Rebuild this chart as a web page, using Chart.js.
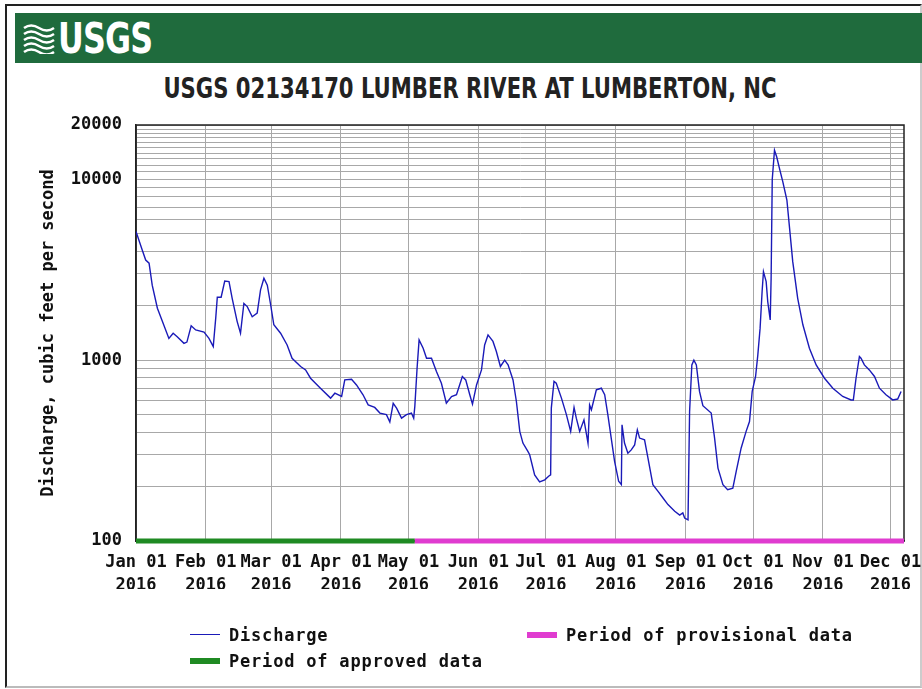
<!DOCTYPE html>
<html lang="en">
<head>
  <meta charset="UTF-8" />
  <title>USGS 02134170 Lumber River at Lumberton, NC</title>
  <style>
    body {
      margin: 0;
      background: #fff;
      width: 922px;
      height: 689px;
      overflow: hidden;
      font-family: "DejaVu Sans Mono", monospace;
    }
    #frame {
      position: absolute;
      left: 5px;
      top: 4px;
      width: 913px;
      height: 680px;
      border: 2px solid #222;
      border-right-color: #ccc;
      border-bottom-color: #bbb;
    }
    #banner {
      position: absolute;
      left: 15px;
      top: 13px;
      width: 907px;
      height: 50px;
      background: #1f6b3d;
    }
    #banner svg {
      position: absolute;
      left: 8px;
      top: 9px;
    }
    #banner span {
      position: absolute;
      left: 43px;
      top: 1px;
      color: #fff;
      font: bold 42px "DejaVu Sans Condensed", sans-serif;
      letter-spacing: -1px;
      transform: scaleX(0.84);
      transform-origin: left center;
    }
    #title {
      position: absolute;
      left: 0;
      top: 72px;
      width: 940px;
      text-align: center;
      color: #222;
      font: bold 28px "DejaVu Sans Condensed", sans-serif;
      line-height: 34px;
      transform: scaleX(0.84);
      transform-origin: 470px 0;
      white-space: nowrap;
    }
    #chart {
      position: absolute;
      left: 0;
      top: 0;
    }
    .leg {
      position: absolute;
      font: bold 17px "DejaVu Sans Mono", monospace;
      letter-spacing: 0.8px;
      color: #111;
      line-height: 20px;
      white-space: nowrap;
    }
    .leg i {
      display: inline-block;
      vertical-align: middle;
      width: 30px;
      margin-right: 9px;
      margin-top: -3px;
    }
  </style>
</head>
<body>
  <div id="frame"></div>
  <div id="banner">
    <svg width="32" height="32" viewBox="0 0 32 32">
      <path d="M1 6 q7 -5 15 0 t15 0" stroke="#fff" stroke-width="2.5" fill="none"/>
      <path d="M1 12 q7 -5 15 0 t15 0" stroke="#fff" stroke-width="2.5" fill="none"/>
      <path d="M1 18 q7 -5 15 0 t15 0" stroke="#fff" stroke-width="2.5" fill="none"/>
      <path d="M1 24 q7 -5 15 0 t15 0" stroke="#fff" stroke-width="2.5" fill="none"/>
      <path d="M1 30 q7 -5 15 0 t15 0" stroke="#fff" stroke-width="2.5" fill="none"/>
    </svg>
    <span>USGS</span>
  </div>
  <div id="title">USGS 02134170 LUMBER RIVER AT LUMBERTON, NC</div>
  <canvas id="chart" width="922" height="689"></canvas>
  <div id="legend"></div>

  <script src="https://cdn.jsdelivr.net/npm/chart.js"></script>
  <script>
    // days since 2016-01-01 and discharge in cfs
    const days = [0, 2.8, 4.3, 5.8, 7.2, 9.5, 11.7, 14.6, 16.5, 18.3,
      21.3, 22.6, 24.5, 26.5, 30.2, 32.4, 34.3, 35.4, 36.1, 37.8,
      39.4, 41.3, 42.7, 44.9, 46.4, 47.9, 49.4, 51.6, 53.8, 55.3,
      56.8, 58.3, 59.8, 61.2, 64.2, 67.1, 69.3, 73.1, 75.3, 77.5,
      81.9, 86.4, 88.3, 91.3, 92.7, 95.7, 97.9, 100.8, 103.1, 106,
      108.3, 111.2, 112.7, 114.2, 115.7, 117.9, 120.1, 122.3, 123.3, 123.8,
      124.8, 125.7, 127.5, 129, 131.2, 133.4, 135.6, 137.8, 140.1, 142.3,
      144.9, 146.4, 148.2, 149.4, 151.2, 153.4, 154.8, 156.3, 158.5, 160,
      161.8, 163.7, 165.2, 167.4, 168.9, 170.4, 171.8, 174, 174.8, 177,
      179.2, 181.5, 183.2, 184.1, 184.4, 185.6, 186.6, 188.9, 191.1, 193,
      194.5, 195.5, 197, 198.9, 200.7, 201.4, 202.2, 204.4, 206.6, 208.1,
      209.5, 211, 212.5, 214.3, 215.5, 215.8, 216.9, 218.4, 219.9, 221.4,
      222.6, 223.6, 225.8, 227.3, 229.5, 231.8, 234, 236.2, 239.2, 241.4,
      242.8, 243.6, 245.1, 245.8, 246.8, 247.7, 248.8, 250.2, 251.7, 255.4,
      256.9, 258.4, 260.6, 262.7, 265, 266.5, 268.7, 270.9, 272.4, 273.6,
      275.1, 276.1, 277.1, 278, 278.6, 279.8, 280.5, 281.6, 282, 282.5,
      283.5, 284.5, 285.7, 287.2, 289, 290.2, 291.6, 293.8, 296.1, 299,
      302, 305.7, 309.4, 313.8, 317.5, 318.5, 319.7, 321.2, 321.9, 323.4,
      325.6, 327.9, 330.1, 333, 336, 338.2, 339.7];

    const discharge = [5150, 4060, 3580, 3440, 2600, 1940, 1640, 1320, 1410, 1350,
      1240, 1260, 1550, 1470, 1430, 1320, 1190, 1710, 2230, 2230,
      2740, 2720, 2200, 1640, 1410, 2060, 1980, 1740, 1820, 2450,
      2840, 2600, 2020, 1570, 1410, 1215, 1025, 923, 884, 795,
      700, 617, 657, 630, 778, 785, 730, 644, 566, 548,
      510, 500, 455, 578, 543, 478, 500, 510, 478, 555,
      903, 1295, 1165, 1025, 1025, 866, 746, 578, 630, 644,
      813, 778, 644, 571, 730, 884, 1215, 1380, 1270, 1117,
      923, 1000, 942, 778, 591, 404, 348, 313, 300, 232,
      212, 218, 228, 232, 543, 763, 746, 617, 500, 404,
      548, 478, 404, 468, 348, 566, 532, 686, 700, 644,
      500, 371, 276, 214, 205, 439, 348, 306, 319, 340,
      412, 371, 363, 288, 205, 188, 173, 159, 146, 139,
      143, 134, 131, 520, 942, 1000, 942, 672, 560, 510,
      371, 253, 205, 192, 196, 243, 327, 404, 458, 672,
      813, 1070, 1500, 2400, 3090, 2720, 2110, 1670, 2840, 10000,
      14500, 13300, 11500, 9700, 7690, 5360, 3510, 2200, 1570, 1165,
      942, 795, 700, 630, 603, 603, 795, 1048, 1025, 942,
      884, 813, 700, 644, 603, 610, 672];

    // approved / provisional periods (days since Jan 1)
    const approvedPeriod = [0, 123.8];
    const provisionalPeriod = [123.8, 341];
    const dayMax = 341;

    const monthDays = [0, 31, 60, 91, 121, 152, 182, 213, 244, 274, 305, 335];
    const monthLabels = ["Jan 01", "Feb 01", "Mar 01", "Apr 01", "May 01", "Jun 01",
      "Jul 01", "Aug 01", "Sep 01", "Oct 01", "Nov 01", "Dec 01"];
    const yearLabel = "2016";

    const yGridValues = [100, 200, 300, 400, 500, 600, 700, 800, 900,
      1000, 2000, 3000, 4000, 5000, 6000, 7000, 8000, 9000,
      10000, 11000, 12000, 13000, 14000, 15000, 16000, 17000, 18000, 19000, 20000];
    const yLabelValues = [100, 1000, 10000, 20000];

    const monoFont = { family: "'DejaVu Sans Mono', monospace", size: 17, weight: "bold" };

    const framePlugin = {
      id: "frame",
      beforeDatasetsDraw(chart) {
        const a = chart.chartArea;
        const c = chart.ctx;
        c.save();
        c.strokeStyle = "#222";
        c.lineWidth = 1.5;
        c.strokeRect(a.left, a.top, a.right - a.left, a.bottom - a.top);
        c.restore();
      }
    };

    const chart = new Chart(document.getElementById("chart"), {
      type: "line",
      data: {
        datasets: [
          {
            label: "Discharge",
            data: days.map((d, i) => ({ x: d, y: discharge[i] })),
            borderColor: "#1a1ab8",
            borderWidth: 1.4,
            pointRadius: 0,
            tension: 0
          },
          {
            label: "Period of provisional data",
            data: provisionalPeriod.map(d => ({ x: d, y: 100 })),
            borderColor: "#e03cd0",
            borderWidth: 5,
            pointRadius: 0,
            clip: false
          },
          {
            label: "Period of approved data",
            data: approvedPeriod.map(d => ({ x: d, y: 100 })),
            borderColor: "#1f8a23",
            borderWidth: 5,
            pointRadius: 0,
            clip: false
          }
        ]
      },
      options: {
        responsive: false,
        animation: false,
        layout: { padding: { top: 125, left: 30, right: 18, bottom: 100 } },
        plugins: {
          legend: { display: false },
          tooltip: { enabled: false }
        },
        scales: {
          x: {
            type: "linear",
            min: 0,
            max: dayMax,
            afterBuildTicks(s) { s.ticks = monthDays.map(v => ({ value: v })); },
            afterFit(s) { s.height = 48; s.paddingLeft = 0; s.paddingRight = 0; },
            grid: { color: "#a8a8a8", drawTicks: false },
            border: { color: "#222", width: 1.5 },
            ticks: {
              autoSkip: false,
              maxRotation: 0,
              padding: 11,
              color: "#111",
              font: { ...monoFont, lineHeight: 1.3 },
              callback(v) {
                const i = monthDays.indexOf(v);
                return i < 0 ? "" : [monthLabels[i], yearLabel];
              }
            }
          },
          y: {
            type: "logarithmic",
            min: 100,
            max: 20000,
            afterBuildTicks(s) { s.ticks = yGridValues.map(v => ({ value: v })); },
            afterFit(s) { s.width = 106; s.paddingTop = 0; s.paddingBottom = 0; },
            grid: { color: "#a8a8a8", drawTicks: false },
            border: { color: "#222", width: 1.5 },
            ticks: {
              autoSkip: false,
              padding: 14,
              color: "#111",
              font: monoFont,
              callback(v) { return yLabelValues.includes(v) ? String(v) : ""; }
            },
            title: {
              display: true,
              text: "Discharge, cubic feet per second",
              color: "#111",
              font: monoFont,
              padding: { top: 8, bottom: 0 }
            }
          }
        }
      },
      plugins: [framePlugin]
    });

    // legend built from the datasets, laid out like the USGS two-column legend
    const legendSpots = [[190, 625], [527, 625], [190, 651]];
    const legend = document.getElementById("legend");
    chart.data.datasets.forEach((ds, i) => {
      const div = document.createElement("div");
      div.className = "leg";
      div.style.left = legendSpots[i][0] + "px";
      div.style.top = legendSpots[i][1] + "px";
      const h = ds.borderWidth > 2 ? 6 : 1.5;
      div.innerHTML = `<i style="height:${h}px;background:${ds.borderColor}"></i>${ds.label}`;
      legend.appendChild(div);
    });
  </script>
</body>
</html>
